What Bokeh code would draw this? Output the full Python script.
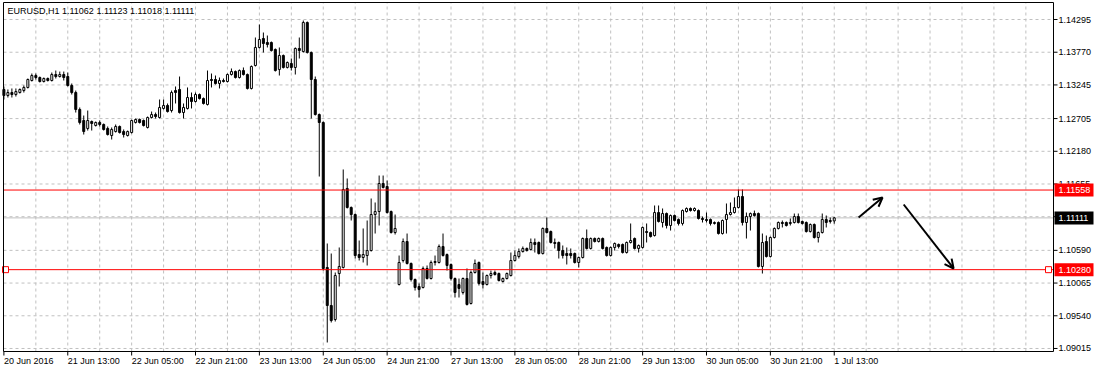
from bokeh.plotting import figure
from bokeh.models import Range1d, ColumnDataSource, Arrow, OpenHead
from bokeh.core.properties import value
from bokeh.embed import file_html
from bokeh.resources import INLINE

chart_title = "EURUSD,H1  1.11062 1.11123 1.11018 1.11111"

opens = [
    1.13172, 1.13075, 1.13123, 1.13091, 1.13123, 1.13155, 1.13204, 1.13316, 1.13396, 1.13364,
    1.13300, 1.13348, 1.13316, 1.13412, 1.13380, 1.13412, 1.13380, 1.13236, 1.13123, 1.12851,
    1.12674, 1.12546, 1.12658, 1.12594, 1.12642, 1.12610, 1.12546, 1.12433, 1.12497, 1.12578,
    1.12497, 1.12433, 1.12481, 1.12642, 1.12690, 1.12674, 1.12562, 1.12722, 1.12770, 1.12722,
    1.12867, 1.12915, 1.12834, 1.13155, 1.13172, 1.12802, 1.12867, 1.13043, 1.12979, 1.13091,
    1.13027, 1.12931, 1.13332, 1.13332, 1.13268, 1.13316, 1.13300, 1.13412, 1.13460, 1.13364,
    1.13476, 1.13412, 1.13188, 1.13557, 1.13846, 1.13990, 1.13926, 1.13926, 1.13814, 1.13493,
    1.13717, 1.13525, 1.13589, 1.13525, 1.13830, 1.13781, 1.14247, 1.13765, 1.13332, 1.12770,
    1.12642, 1.10315, 1.09705, 1.09480, 1.10218, 1.10315, 1.11583, 1.11278, 1.11165, 1.10523,
    1.10475, 1.10507, 1.10587, 1.11165, 1.11213, 1.11663, 1.11615, 1.11213, 1.10876, 1.10042,
    1.10427, 1.10732, 1.10379, 1.10122, 1.10010, 1.09994, 1.10299, 1.10138, 1.10395, 1.10395,
    1.10652, 1.10523, 1.10363, 1.10138, 1.10042, 1.09913, 1.10138, 1.09737, 1.10234, 1.10395,
    1.10090, 1.10042, 1.10186, 1.10234, 1.10218, 1.10090, 1.10138, 1.10186, 1.10427, 1.10491,
    1.10571, 1.10620, 1.10604, 1.10716, 1.10716, 1.10539, 1.10941, 1.10892, 1.10716, 1.10716,
    1.10587, 1.10539, 1.10539, 1.10539, 1.10395, 1.10475, 1.10780, 1.10620, 1.10780, 1.10732,
    1.10780, 1.10636, 1.10507, 1.10636, 1.10684, 1.10684, 1.10555, 1.10716, 1.10780, 1.10620,
    1.10636, 1.10892, 1.10876, 1.10828, 1.11197, 1.11037, 1.11181, 1.10989, 1.11149, 1.11085,
    1.11021, 1.11213, 1.11262, 1.11229, 1.11229, 1.11101, 1.11085, 1.11085, 1.11021, 1.11037,
    1.10860, 1.11085, 1.11165, 1.11197, 1.11278, 1.11454, 1.11037, 1.11133, 1.11181, 1.11181,
    1.10331, 1.10732, 1.10491, 1.10796, 1.10941, 1.11037, 1.11037, 1.11021, 1.11037, 1.11133,
    1.11053, 1.11037, 1.10892, 1.11005, 1.10796, 1.10876, 1.11085, 1.11069, 1.11062,
]

highs = [
    1.13220, 1.13172, 1.13188, 1.13188, 1.13188, 1.13236, 1.13348, 1.13428, 1.13428, 1.13380,
    1.13364, 1.13364, 1.13444, 1.13476, 1.13460, 1.13460, 1.13444, 1.13268, 1.13155, 1.12883,
    1.12754, 1.12834, 1.12674, 1.12658, 1.12674, 1.12626, 1.12578, 1.12562, 1.12610, 1.12594,
    1.12530, 1.12513, 1.12690, 1.12706, 1.12706, 1.12690, 1.12738, 1.12818, 1.12802, 1.13011,
    1.13011, 1.12947, 1.13155, 1.13220, 1.13380, 1.12947, 1.13204, 1.13123, 1.13123, 1.13107,
    1.13043, 1.13476, 1.13428, 1.13396, 1.13364, 1.13348, 1.13428, 1.13509, 1.13476, 1.13493,
    1.13525, 1.13428, 1.13557, 1.14006, 1.14215, 1.14086, 1.14038, 1.13942, 1.13830, 1.13846,
    1.13733, 1.13621, 1.13669, 1.13846, 1.14006, 1.14279, 1.14263, 1.13781, 1.13380, 1.12786,
    1.12658, 1.10700, 1.10539, 1.10234, 1.10636, 1.11888, 1.11743, 1.11294, 1.11181, 1.10748,
    1.10941, 1.11069, 1.11422, 1.11358, 1.11791, 1.11791, 1.11711, 1.11229, 1.11165, 1.10507,
    1.10780, 1.10860, 1.10395, 1.10138, 1.10058, 1.10331, 1.10347, 1.10427, 1.10507, 1.10684,
    1.10860, 1.10539, 1.10379, 1.10154, 1.10138, 1.10154, 1.10299, 1.10266, 1.10443, 1.10411,
    1.10234, 1.10202, 1.10266, 1.10266, 1.10234, 1.10154, 1.10234, 1.10555, 1.10587, 1.10620,
    1.10652, 1.10636, 1.10780, 1.10780, 1.10732, 1.10957, 1.11117, 1.10908, 1.10780, 1.10732,
    1.10668, 1.10636, 1.10620, 1.10555, 1.10491, 1.10796, 1.10925, 1.10796, 1.10796, 1.10796,
    1.10796, 1.10652, 1.10652, 1.10716, 1.10700, 1.10700, 1.10732, 1.11021, 1.10796, 1.10684,
    1.10973, 1.11021, 1.10892, 1.11310, 1.11310, 1.11262, 1.11197, 1.11165, 1.11165, 1.11101,
    1.11246, 1.11278, 1.11278, 1.11278, 1.11246, 1.11133, 1.11197, 1.11101, 1.11053, 1.11053,
    1.11085, 1.11342, 1.11358, 1.11438, 1.11567, 1.11567, 1.11197, 1.11197, 1.11229, 1.11197,
    1.10860, 1.10828, 1.10812, 1.10957, 1.11053, 1.11069, 1.11053, 1.11101, 1.11181, 1.11181,
    1.11069, 1.11053, 1.11021, 1.11021, 1.10892, 1.11181, 1.11149, 1.11117, 1.11123,
]

lows = [
    1.13011, 1.13043, 1.13043, 1.13059, 1.13107, 1.13123, 1.13188, 1.13300, 1.13332, 1.13284,
    1.13284, 1.13300, 1.13300, 1.13348, 1.13364, 1.13316, 1.13220, 1.13091, 1.12802, 1.12610,
    1.12449, 1.12513, 1.12513, 1.12578, 1.12578, 1.12513, 1.12433, 1.12369, 1.12481, 1.12465,
    1.12401, 1.12417, 1.12465, 1.12626, 1.12626, 1.12578, 1.12546, 1.12706, 1.12706, 1.12706,
    1.12851, 1.12802, 1.12802, 1.12947, 1.12786, 1.12706, 1.12851, 1.12867, 1.12963, 1.13011,
    1.12931, 1.12915, 1.13204, 1.13252, 1.13188, 1.13284, 1.13284, 1.13396, 1.13348, 1.13348,
    1.13396, 1.13172, 1.13172, 1.13541, 1.13830, 1.13765, 1.13846, 1.13781, 1.13460, 1.13396,
    1.13509, 1.13509, 1.13476, 1.13412, 1.13669, 1.13765, 1.13749, 1.12706, 1.12754, 1.11775,
    1.10266, 1.09111, 1.09432, 1.09448, 1.10010, 1.10299, 1.11262, 1.11069, 1.10459, 1.10427,
    1.10395, 1.10347, 1.10571, 1.10860, 1.10989, 1.11583, 1.11181, 1.10860, 1.10844, 1.10026,
    1.10395, 1.10363, 1.10090, 1.09945, 1.09833, 1.09978, 1.10122, 1.10122, 1.10347, 1.10379,
    1.10491, 1.10266, 1.10106, 1.09833, 1.09833, 1.09881, 1.09705, 1.09721, 1.10218, 1.10026,
    1.09978, 1.10026, 1.10138, 1.10186, 1.10090, 1.10074, 1.10122, 1.10170, 1.10411, 1.10459,
    1.10555, 1.10571, 1.10587, 1.10555, 1.10523, 1.10523, 1.10860, 1.10700, 1.10620, 1.10459,
    1.10459, 1.10363, 1.10459, 1.10379, 1.10315, 1.10459, 1.10604, 1.10604, 1.10716, 1.10716,
    1.10604, 1.10491, 1.10491, 1.10587, 1.10620, 1.10539, 1.10539, 1.10700, 1.10604, 1.10555,
    1.10620, 1.10716, 1.10796, 1.10812, 1.11037, 1.10957, 1.10941, 1.10908, 1.11053, 1.10989,
    1.10989, 1.11197, 1.11213, 1.11213, 1.11085, 1.11037, 1.11037, 1.10989, 1.11005, 1.10844,
    1.10844, 1.10860, 1.11149, 1.11181, 1.11262, 1.10989, 1.10780, 1.10908, 1.11133, 1.10315,
    1.10218, 1.10475, 1.10475, 1.10780, 1.10925, 1.10957, 1.10973, 1.10989, 1.11021, 1.11021,
    1.11005, 1.10876, 1.10876, 1.10780, 1.10716, 1.10860, 1.10957, 1.11021, 1.11018,
]

closes = [
    1.13075, 1.13123, 1.13091, 1.13139, 1.13172, 1.13204, 1.13332, 1.13396, 1.13364, 1.13300,
    1.13348, 1.13316, 1.13412, 1.13380, 1.13412, 1.13364, 1.13236, 1.13123, 1.12851, 1.12642,
    1.12497, 1.12674, 1.12626, 1.12642, 1.12610, 1.12530, 1.12449, 1.12530, 1.12578, 1.12481,
    1.12449, 1.12497, 1.12674, 1.12690, 1.12642, 1.12594, 1.12722, 1.12770, 1.12738, 1.12883,
    1.12915, 1.12818, 1.13123, 1.13123, 1.12802, 1.12883, 1.13043, 1.12979, 1.13091, 1.13027,
    1.12947, 1.13316, 1.13316, 1.13268, 1.13316, 1.13300, 1.13412, 1.13460, 1.13364, 1.13476,
    1.13412, 1.13188, 1.13541, 1.13846, 1.13974, 1.13910, 1.13894, 1.13797, 1.13476, 1.13717,
    1.13525, 1.13605, 1.13525, 1.13830, 1.13797, 1.14247, 1.13765, 1.13332, 1.12770, 1.12642,
    1.10299, 1.09705, 1.09464, 1.10186, 1.10331, 1.11567, 1.11278, 1.11165, 1.10507, 1.10475,
    1.10523, 1.10587, 1.11165, 1.11213, 1.11663, 1.11599, 1.11197, 1.10876, 1.10941, 1.10395,
    1.10732, 1.10379, 1.10122, 1.09994, 1.09962, 1.10299, 1.10138, 1.10395, 1.10411, 1.10652,
    1.10507, 1.10347, 1.10138, 1.09913, 1.09978, 1.10138, 1.09721, 1.10234, 1.10379, 1.10058,
    1.10042, 1.10186, 1.10218, 1.10202, 1.10106, 1.10138, 1.10218, 1.10427, 1.10507, 1.10571,
    1.10620, 1.10587, 1.10716, 1.10684, 1.10539, 1.10941, 1.10876, 1.10716, 1.10700, 1.10587,
    1.10507, 1.10507, 1.10507, 1.10395, 1.10475, 1.10780, 1.10620, 1.10780, 1.10732, 1.10780,
    1.10620, 1.10507, 1.10636, 1.10700, 1.10652, 1.10555, 1.10716, 1.10748, 1.10620, 1.10668,
    1.10957, 1.10876, 1.10812, 1.11197, 1.11053, 1.11181, 1.10989, 1.11149, 1.11069, 1.11021,
    1.11229, 1.11262, 1.11229, 1.11262, 1.11101, 1.11085, 1.11069, 1.11021, 1.11037, 1.10860,
    1.11069, 1.11165, 1.11197, 1.11278, 1.11454, 1.11037, 1.11133, 1.11181, 1.11149, 1.10331,
    1.10716, 1.10491, 1.10796, 1.10941, 1.11037, 1.11021, 1.10989, 1.11037, 1.11133, 1.11037,
    1.11021, 1.10892, 1.11005, 1.10796, 1.10876, 1.11085, 1.11037, 1.11053, 1.11111,
]

time_tick_bars = [0, 16, 32, 48, 64, 80, 96, 112, 128, 144, 160, 176, 192, 208]
time_tick_labels = ["20 Jun 2016", "21 Jun 13:00", "22 Jun 05:00", "22 Jun 21:00",
                    "23 Jun 13:00", "24 Jun 05:00", "24 Jun 21:00", "27 Jun 13:00",
                    "28 Jun 05:00", "28 Jun 21:00", "29 Jun 13:00", "30 Jun 05:00",
                    "30 Jun 21:00", "1 Jul 13:00"]
time_grid_bars = list(range(8, 264, 8))

price_ticks = [1.14295, 1.13770, 1.13245, 1.12705, 1.12180, 1.11655,
               1.11130, 1.10590, 1.10065, 1.09540, 1.09015]
price_tick_labels = ["1.14295", "1.13770", "1.13245", "1.12705", "1.12180", "1.11655",
                     "", "1.10590", "1.10065", "1.09540", "1.09015"]

resistance_level = 1.11558
support_level = 1.10280
bid_price = 1.11111
level_values = [resistance_level, bid_price, support_level]
level_texts = ["1.11558", "1.11111", "1.10280"]
level_box_colors = ["#ff0000", "#000000", "#ff0000"]

arrow_x_start = [214.1, 225.4]
arrow_y_start = [1.11117, 1.11326]
arrow_x_end = [220.1, 237.9]
arrow_y_end = [1.11438, 1.10299]

# ---------------- layout / style constants ----------------
FONT = "Liberation Sans"
FS = "9px"
W, H = 1095, 372
BAR_PX = 3.992          # pixels per bar
PRICE_PX = 6230.5       # pixels per price unit
CH_L, CH_R, CH_T, CH_B = 3, 1053, 2, 351   # chart box in pixels
X_LEFT = -0.1           # bar coordinate at the chart's left edge
P_TOP = 1.14568         # price at the chart's top edge


def dx(px):
    return px / BAR_PX


def dy(px):
    return px / PRICE_PX


x_left = X_LEFT
x_right = X_LEFT + dx(CH_R - CH_L)
y_top = P_TOP
y_bottom = P_TOP - dy(CH_B - CH_T)
xr_start = X_LEFT - dx(CH_L)
yr_end = P_TOP + dy(CH_T)

p = figure(width=W, height=H,
           x_range=Range1d(xr_start, xr_start + dx(W)),
           y_range=Range1d(yr_end - dy(H), yr_end),
           output_backend="svg", toolbar_location=None,
           x_axis_location=None, y_axis_location=None, min_border=0)
p.grid.visible = False
p.outline_line_color = None
p.background_fill_color = "white"
p.border_fill_color = "white"

GRID = dict(line_color="#c0c0c0", line_dash="3 3", line_width=1)

# grid
p.segment(x0=time_grid_bars, x1=time_grid_bars,
          y0=[y_bottom] * len(time_grid_bars), y1=[y_top] * len(time_grid_bars), **GRID)
p.segment(x0=[x_left] * len(price_ticks), x1=[x_right] * len(price_ticks),
          y0=price_ticks, y1=price_ticks, **GRID)

# bid line
p.segment(x0=[x_left], x1=[x_right], y0=[bid_price], y1=[bid_price],
          line_color="#c0c0c0", line_width=1)

# candles
n = len(opens)
idx = list(range(n))
bull = [i for i in idx if closes[i] >= opens[i]]
bear = [i for i in idx if closes[i] < opens[i]]
wick_src = ColumnDataSource(dict(x=idx, high=highs, low=lows))
p.segment(x0="x", y0="low", x1="x", y1="high", source=wick_src,
          line_color="black", line_width=1)
bull_src = ColumnDataSource(dict(x=bull, top=[closes[i] for i in bull],
                                 bottom=[opens[i] for i in bull]))
bear_src = ColumnDataSource(dict(x=bear, top=[opens[i] for i in bear],
                                 bottom=[closes[i] for i in bear]))
p.vbar(x="x", width=0.5, top="top", bottom="bottom", source=bull_src,
       fill_color="white", line_color="black", line_width=1)
p.vbar(x="x", width=0.5, top="top", bottom="bottom", source=bear_src,
       fill_color="black", line_color="black", line_width=1)

# horizontal red levels
p.segment(x0=[x_left, x_left], x1=[x_right, x_right],
          y0=[resistance_level, support_level], y1=[resistance_level, support_level],
          line_color="#ff0000", line_width=1)
p.scatter(x=[x_left + dx(2), x_right - dx(5)], y=[support_level, support_level],
          marker="square", size=6, fill_color="white", line_color="#ff0000", line_width=1)

# arrows
for xs, ys, xe, ye in zip(arrow_x_start, arrow_y_start, arrow_x_end, arrow_y_end):
    p.add_layout(Arrow(x_start=xs, y_start=ys, x_end=xe, y_end=ye,
                       line_color="black", line_width=2,
                       end=OpenHead(size=9, line_color="black", line_width=2)))

# chart frame
p.quad(left=[x_left], right=[x_right], top=[y_top], bottom=[y_bottom],
       fill_color=None, line_color="black", line_width=1)

# price scale: ticks + labels
p.segment(x0=[x_right] * len(price_ticks), x1=[x_right + dx(4)] * len(price_ticks),
          y0=price_ticks, y1=price_ticks, line_color="black", line_width=1)
p.text(x=[x_right + dx(5)] * len(price_ticks), y=price_ticks, text=price_tick_labels,
       text_font=value(FONT), text_font_size=value(FS), text_color="black",
       text_align="left", text_baseline="middle")

# time scale: ticks + labels (left aligned on the tick, MT4 style)
p.segment(x0=time_tick_bars, x1=time_tick_bars,
          y0=[y_bottom] * len(time_tick_bars), y1=[y_bottom - dy(4)] * len(time_tick_bars),
          line_color="black", line_width=1)
p.text(x=time_tick_bars, y=[y_bottom - dy(9)] * len(time_tick_bars), text=time_tick_labels,
       text_font=value(FONT), text_font_size=value(FS), text_color="black",
       text_align="left", text_baseline="middle")

# price boxes on the scale
p.rect(x=[x_right + dx(20.5)] * 3, y=level_values, width=39, height=13,
       width_units="screen", height_units="screen",
       fill_color=level_box_colors, line_color=None)
p.text(x=[x_right + dx(5)] * 3, y=level_values, text=level_texts,
       text_font=value(FONT), text_font_size=value(FS), text_color="white",
       text_align="left", text_baseline="middle")

# title
p.text(x=[x_left + dx(4)], y=[y_top - dy(8)], text=[chart_title],
       text_font=value(FONT), text_font_size=value(FS), text_color="black",
       text_align="left", text_baseline="middle")

open("out.html", "w").write(file_html(p, INLINE))
